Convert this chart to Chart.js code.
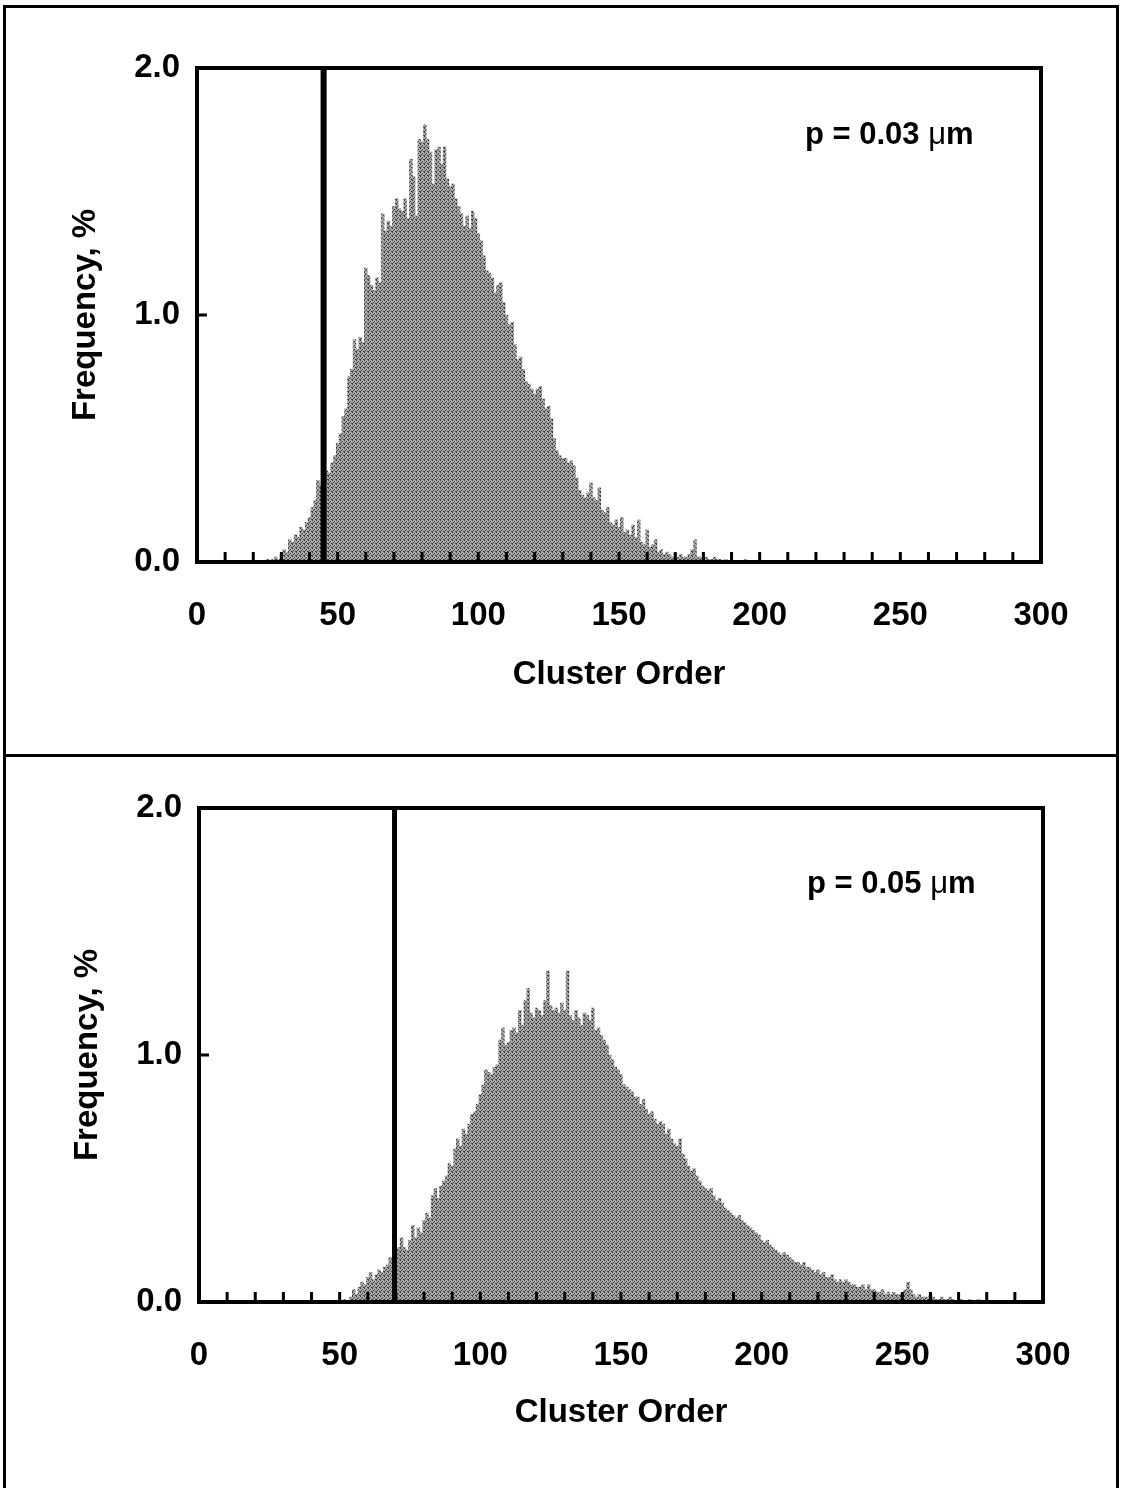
<!DOCTYPE html>
<html>
<head>
<meta charset="utf-8">
<script src="https://cdn.jsdelivr.net/npm/chart.js@4.4.1/dist/chart.umd.min.js"></script>
<style>
  html, body { margin: 0; padding: 0; background: #fff; }
  body { width: 1121px; height: 1488px; position: relative; overflow: hidden; }
  .frame { position: absolute; left: 3px; top: 5px; width: 1110px; height: 1500px; border: 3px solid #000; border-bottom: none; }
  .divider { position: absolute; left: 3px; top: 754px; width: 1116px; height: 3px; background: #000; }
  canvas { position: absolute; left: 0; }
</style>
</head>
<body>
<div class="frame"></div>
<div class="divider"></div>
<canvas id="chartTop" width="1121" height="756" style="top:0"></canvas>
<canvas id="chartBottom" width="1121" height="732" style="top:756px"></canvas>
<script>
// frequency (%) per cluster order, p = 0.03 um, starting at order 20
const topStart = 20;
const topFreq = [
  0, 0, 0.005, 0, 0,
  0.01, 0, 0.01, 0.02, 0.01,
  0.03, 0.05, 0.04, 0.09, 0.08,
  0.11, 0.10, 0.14, 0.13, 0.16,
  0.18, 0.22, 0.25, 0.33, 0.31,
  0.36, 0.37, 0.36, 0.40, 0.43,
  0.48, 0.52, 0.59, 0.62, 0.75,
  0.78, 0.90, 0.86, 0.91, 0.89,
  1.19, 1.16, 1.12, 1.10, 1.15,
  1.13, 1.41, 1.34, 1.38, 1.36,
  1.44, 1.47, 1.43, 1.42, 1.47,
  1.39, 1.63, 1.56, 1.40, 1.71,
  1.70, 1.77, 1.71, 1.66, 1.53,
  1.67, 1.68, 1.61, 1.68, 1.55,
  1.52, 1.53, 1.47, 1.44, 1.41,
  1.36, 1.40, 1.35, 1.42, 1.39,
  1.33, 1.30, 1.24, 1.18, 1.17,
  1.15, 1.09, 1.12, 1.13, 1.05,
  1.00, 0.96, 0.97, 0.88, 0.82,
  0.83, 0.78, 0.73, 0.72, 0.70,
  0.68, 0.70, 0.71, 0.66, 0.62,
  0.63, 0.58, 0.50, 0.45, 0.43,
  0.42, 0.42, 0.40, 0.41, 0.39,
  0.34, 0.29, 0.27, 0.26, 0.28,
  0.32, 0.26, 0.25, 0.30, 0.21,
  0.20, 0.22, 0.16, 0.15, 0.17,
  0.14, 0.18, 0.12, 0.13, 0.11,
  0.15, 0.10, 0.17, 0.08, 0.07,
  0.13, 0.06, 0.07, 0.09, 0.04,
  0.05, 0.03, 0.04, 0.03, 0.02,
  0.03, 0.02, 0.03, 0.02, 0.02,
  0.03, 0.05, 0.09, 0.02, 0.02,
  0.01, 0.02, 0.01, 0.01, 0.02,
  0.01, 0.01, 0, 0.01, 0,
  0.01, 0, 0.005, 0, 0,
  0.01, 0, 0, 0.005, 0, 0
];
const topCutoff = 45;
const topLabel = '0.03';

// frequency (%) per cluster order, p = 0.05 um, starting at order 50
const bottomStart = 50;
const bottomFreq = [
  0.005, 0, 0.01, 0, 0.02,
  0.05, 0.03, 0.06, 0.08, 0.07,
  0.10, 0.12, 0.09, 0.11, 0.13,
  0.12, 0.14, 0.15, 0.18, 0.17,
  0.20, 0.22, 0.26, 0.22, 0.21,
  0.25, 0.31, 0.26, 0.30, 0.28,
  0.33, 0.36, 0.34, 0.43, 0.46,
  0.42, 0.47, 0.49, 0.51, 0.56,
  0.55, 0.62, 0.66, 0.63, 0.70,
  0.68, 0.72, 0.76, 0.77, 0.80,
  0.84, 0.88, 0.94, 0.93, 0.92,
  0.95, 0.96, 1.06, 1.11, 1.04,
  1.05, 1.10, 1.11, 1.09, 1.18,
  1.12, 1.22, 1.27, 1.17, 1.15,
  1.19, 1.18, 1.16, 1.22, 1.34,
  1.20, 1.18, 1.19, 1.17, 1.21,
  1.18, 1.34, 1.16, 1.14, 1.18,
  1.15, 1.12, 1.17, 1.16, 1.14,
  1.19, 1.10, 1.11, 1.08, 1.06,
  1.04, 1.00, 0.98, 0.95, 0.94,
  0.92, 0.88, 0.87, 0.86, 0.85,
  0.83, 0.83, 0.80, 0.82, 0.78,
  0.76, 0.77, 0.74, 0.72, 0.73,
  0.72, 0.68, 0.70, 0.66, 0.64,
  0.63, 0.66, 0.60, 0.58, 0.55,
  0.53, 0.54, 0.51, 0.49, 0.47,
  0.46, 0.45, 0.46, 0.43, 0.41,
  0.42, 0.40, 0.38, 0.37, 0.36,
  0.35, 0.34, 0.35, 0.33, 0.32,
  0.31, 0.30, 0.29, 0.28, 0.27,
  0.25, 0.24, 0.25, 0.23, 0.22,
  0.21, 0.20, 0.19, 0.20, 0.19,
  0.18, 0.17, 0.16, 0.16, 0.15,
  0.16, 0.14, 0.14, 0.13, 0.12,
  0.13, 0.11, 0.12, 0.10, 0.10,
  0.11, 0.09, 0.08, 0.09, 0.08,
  0.09, 0.08, 0.07, 0.07, 0.06,
  0.06, 0.07, 0.05, 0.07, 0.05,
  0.05, 0.04, 0.04, 0.05, 0.03,
  0.04, 0.03, 0.04, 0.03, 0.03,
  0.03, 0.05, 0.08, 0.05, 0.03,
  0.02, 0.03, 0.02, 0.02, 0.02,
  0.03, 0.02, 0.01, 0.01, 0.02,
  0.01, 0.01, 0.02, 0.01, 0,
  0, 0.01, 0, 0, 0.01,
  0, 0, 0.01, 0, 0,
  0, 0.005, 0, 0.005
];
const bottomCutoff = 69.5;
const bottomLabel = '0.05';

const xTicks = [0, 50, 100, 150, 200, 250, 300];
const yTicks = [0.0, 1.0, 2.0];

const FONT = '"Liberation Sans", Arial, Helvetica, sans-serif';

// grey stippled fill for the histogram bars
function stipple() {
  const c = document.createElement('canvas');
  c.width = 4; c.height = 4;
  const g = c.getContext('2d');
  g.fillStyle = '#ababab';
  g.fillRect(0, 0, 4, 4);
  g.fillStyle = '#3c3c3c';
  [[0, 0], [2, 1], [1, 2], [3, 3], [0, 3]].forEach(([px, py]) => g.fillRect(px, py, 1, 1));
  return g.createPattern(c, 'repeat');
}

// frame, inward ticks, cutoff line and the p label
const panelDecor = {
  id: 'panelDecor',
  afterDatasetsDraw(chart, args, opts) {
    const { ctx, chartArea: a, scales: { x, y } } = chart;
    ctx.save();
    ctx.strokeStyle = '#000';
    ctx.lineCap = 'butt';

    const cx = x.getPixelForValue(opts.cutoff);
    ctx.lineWidth = opts.cutoffWidth;
    ctx.beginPath();
    ctx.moveTo(cx, a.top);
    ctx.lineTo(cx, a.bottom);
    ctx.stroke();

    ctx.lineWidth = 3;
    ctx.beginPath();
    x.ticks.forEach(t => {
      if (t.value <= x.min || t.value >= x.max) return;
      const px = x.getPixelForValue(t.value);
      ctx.moveTo(px, a.bottom);
      ctx.lineTo(px, a.bottom - 10);
    });
    y.ticks.forEach(t => {
      if (t.value <= y.min || t.value >= y.max) return;
      const py = y.getPixelForValue(t.value);
      ctx.moveTo(a.left, py);
      ctx.lineTo(a.left + 10, py);
    });
    ctx.stroke();

    ctx.lineWidth = 4;
    ctx.strokeRect(a.left, a.top, a.right - a.left, a.bottom - a.top);

    // "p = 0.03 μm" with a plain mu
    const bold = 'bold 31px ' + FONT;
    const plain = '31px ' + FONT;
    let tx = a.left + opts.labelDx;
    const ty = a.top + opts.labelDy;
    ctx.fillStyle = '#000';
    ctx.textBaseline = 'alphabetic';
    ctx.textAlign = 'left';
    const parts = [['p = ' + opts.label + ' ', bold], ['\u03bc', plain], ['m', bold]];
    parts.forEach(([s, f]) => {
      ctx.font = f;
      ctx.fillText(s, tx, ty);
      tx += ctx.measureText(s).width;
    });
    ctx.restore();
  }
};

function makePanel(id, start, freq, cutoff, cutoffWidth, label, g) {
  const points = freq.map((v, i) => ({ x: start + i, y: v }));
  const tickFont = { family: FONT, size: 33, weight: 'bold' };
  return new Chart(document.getElementById(id), {
    type: 'bar',
    data: {
      datasets: [{
        data: points,
        backgroundColor: stipple(),
        borderWidth: 0,
        barPercentage: 1,
        categoryPercentage: 1
      }]
    },
    options: {
      responsive: false,
      animation: false,
      events: [],
      layout: { padding: { left: 0, right: 1121 - g.right, top: g.top, bottom: 0 } },
      plugins: {
        legend: { display: false },
        tooltip: { enabled: false },
        panelDecor: { cutoff: cutoff, cutoffWidth: cutoffWidth, label: label, labelDx: g.labelDx, labelDy: g.labelDy }
      },
      scales: {
        x: {
          type: 'linear',
          min: 0,
          max: 300,
          offset: false,
          grid: { display: false, drawTicks: false },
          border: { display: false },
          afterFit: s => { s.height = g.h - g.bottom; },
          afterBuildTicks: s => {
            s.ticks = [];
            for (let v = 0; v <= 300; v += 10) s.ticks.push({ value: v });
          },
          ticks: {
            autoSkip: false,
            maxRotation: 0,
            padding: 34,
            color: '#000',
            font: tickFont,
            callback: v => (xTicks.includes(v) ? String(v) : '')
          },
          title: {
            display: true,
            text: 'Cluster Order',
            color: '#000',
            font: tickFont,
            padding: { top: 0, bottom: g.xTitlePad }
          }
        },
        y: {
          min: 0,
          max: 2,
          grid: { display: false, drawTicks: false },
          border: { display: false },
          afterFit: s => { s.width = g.left; },
          afterBuildTicks: s => { s.ticks = yTicks.map(v => ({ value: v })); },
          ticks: {
            padding: 17,
            color: '#000',
            font: tickFont,
            callback: v => v.toFixed(1)
          },
          title: {
            display: true,
            text: 'Frequency, %',
            color: '#000',
            font: tickFont,
            padding: { top: g.yTitlePad, bottom: 0 }
          }
        }
      }
    },
    plugins: [panelDecor]
  });
}

makePanel('chartTop', topStart, topFreq, topCutoff, 6, topLabel,
  { h: 756, left: 197, right: 1041, top: 68, bottom: 562, xTitlePad: 61, yTitlePad: 66, labelDx: 608, labelDy: 76 });
makePanel('chartBottom', bottomStart, bottomFreq, bottomCutoff, 5, bottomLabel,
  { h: 732, left: 199, right: 1043, top: 52, bottom: 546, xTitlePad: 55, yTitlePad: 68, labelDx: 608, labelDy: 85 });
</script>
</body>
</html>
